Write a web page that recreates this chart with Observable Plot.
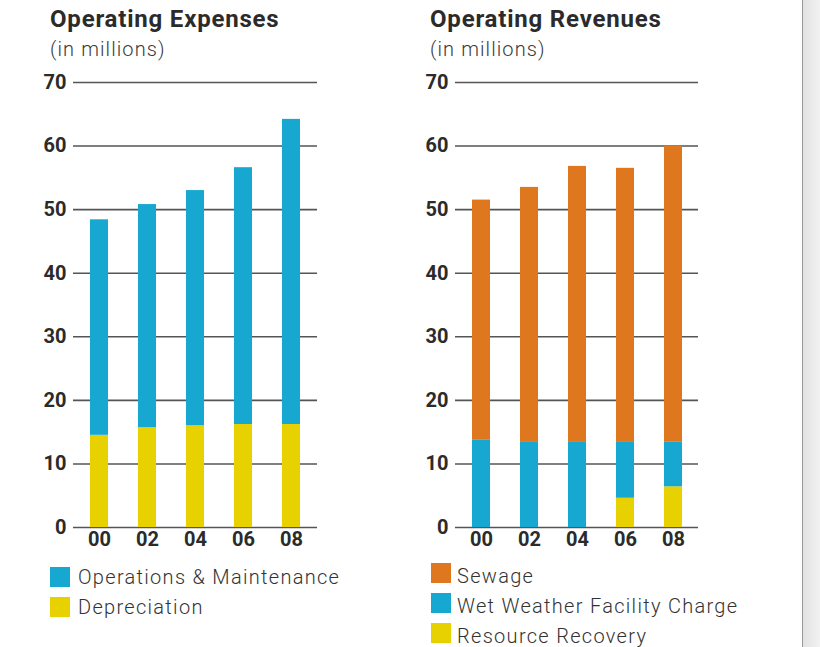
<!DOCTYPE html>
<html>
<head>
<meta charset="utf-8">
<script src="https://cdn.jsdelivr.net/npm/d3@7"></script>
<script src="https://cdn.jsdelivr.net/npm/@observablehq/plot@0.6"></script>
<style>
  html, body { margin: 0; padding: 0; background: #fff; }
  body { width: 820px; height: 647px; overflow: hidden; position: relative; font-family: Roboto, "Noto Sans", sans-serif; color: #2b2b2b; }
  .title { position: absolute; font-size: 24px; font-weight: 700; line-height: 24px; letter-spacing: 0.8px; color: #2b2b2b; white-space: nowrap; }
  .sub { position: absolute; font-size: 20px; font-weight: 300; line-height: 20px; letter-spacing: 1.1px; color: #3a3a3a; white-space: nowrap; }
  .chart { position: absolute; }
  .legend { position: absolute; }
  .item { display: flex; align-items: center; height: 20px; margin-bottom: 10px; font-size: 20px; font-weight: 300; letter-spacing: 1.3px; color: #333; white-space: nowrap; }
  .sw { width: 20px; height: 20px; margin-right: 8px; flex: none; }
  #legR .sw { margin-right: 6px; }
  #legR .txt { position: relative; top: 3px; }
  .edge { position: absolute; left: 802px; top: 0; width: 18px; height: 647px; border-left: 1px solid #9a9a9a; background: linear-gradient(to right, #e2e2e2, #f3f3f3); }
</style>
</head>
<body>
<div class="title" style="left:50px; top:7px;">Operating Expenses</div>
<div class="sub" style="left:50px; top:39px;">(in millions)</div>
<div class="title" style="left:430px; top:7px;">Operating Revenues</div>
<div class="sub" style="left:430px; top:39px;">(in millions)</div>
<div id="left" class="chart" style="left:40px; top:70px;"></div>
<div id="right" class="chart" style="left:420px; top:70px;"></div>
<div id="legL" class="legend" style="left:50px; top:567px;"></div>
<div id="legR" class="legend" style="left:431px; top:563px;"></div>
<div class="edge"></div>
<script>
const years = ["00", "02", "04", "06", "08"];
const yTicks = [0, 10, 20, 30, 40, 50, 60, 70];

// Operating Expenses (in millions)
const expenseSeries = ["Depreciation", "Operations & Maintenance"];
const depreciation = [14.5, 15.7, 16.0, 16.2, 16.2];
const operationsMaintenance = [33.9, 35.1, 37.0, 40.4, 48.0];

// Operating Revenues (in millions)
const revenueSeries = ["Resource Recovery", "Wet Weather Facility Charge", "Sewage"];
const resourceRecovery = [0, 0, 0, 4.6, 6.4];
const wetWeather = [13.8, 13.5, 13.5, 8.9, 7.0];
const sewage = [37.7, 40.0, 43.3, 43.0, 46.6];

const colorMap = {
  "Operations & Maintenance": "#16a8d0",
  "Depreciation": "#e8d100",
  "Sewage": "#df771e",
  "Wet Weather Facility Charge": "#16a8d0",
  "Resource Recovery": "#e8d100"
};

function rows(seriesNames, arrays) {
  const out = [];
  years.forEach((yr, i) => {
    seriesNames.forEach((s, j) => out.push({year: yr, series: s, value: arrays[j][i]}));
  });
  return out;
}

function panel(data, seriesNames, marginLeft, marginRight) {
  return Plot.plot({
    width: 290,
    height: 487,
    marginTop: 12,
    marginBottom: 30,
    marginLeft,
    marginRight,
    style: {fontFamily: "Roboto, sans-serif", color: "#2b2b2b", background: "transparent"},
    x: {domain: years, paddingInner: 0.63, paddingOuter: 0.315, label: null, axis: null},
    y: {domain: [0, 70], label: null, axis: null},
    color: {domain: seriesNames, range: seriesNames.map(s => colorMap[s])},
    marks: [
      Plot.ruleY(yTicks, {stroke: "#555", strokeWidth: 1.6}),
      Plot.barY(data, {x: "year", y: "value", fill: "series"}),
      Plot.axisY(yTicks, {tickSize: 0, tickPadding: 7, fontSize: 20, fontWeight: 700, label: null, fill: "#2b2b2b"}),
      Plot.axisX({tickSize: 0, tickPadding: 4, fontSize: 20, fontWeight: 700, label: null, fill: "#2b2b2b"})
    ]
  });
}

document.getElementById("left").append(
  panel(rows(expenseSeries, [depreciation, operationsMaintenance]), expenseSeries, 33, 13)
);
document.getElementById("right").append(
  panel(rows(revenueSeries, [resourceRecovery, wetWeather, sewage]), revenueSeries, 35, 12)
);

function legend(id, names) {
  const el = document.getElementById(id);
  names.forEach(n => {
    const d = document.createElement("div");
    d.className = "item";
    const sw = document.createElement("span");
    sw.className = "sw";
    sw.style.background = colorMap[n];
    const t = document.createElement("span");
    t.className = "txt";
    t.textContent = n;
    d.append(sw, t);
    el.append(d);
  });
}
legend("legL", ["Operations & Maintenance", "Depreciation"]);
legend("legR", ["Sewage", "Wet Weather Facility Charge", "Resource Recovery"]);
</script>
</body>
</html>
